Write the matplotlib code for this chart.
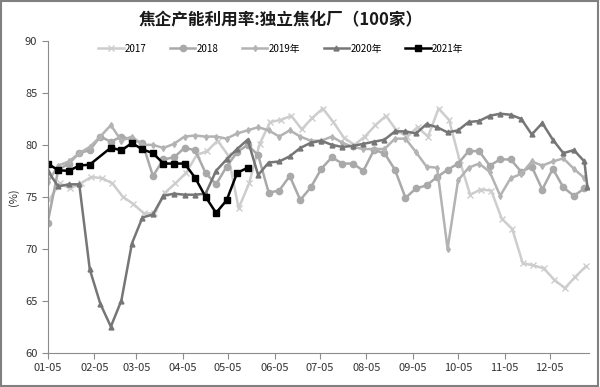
import pandas as pd
import numpy as np
import matplotlib
matplotlib.use("Agg")
import matplotlib.pyplot as plt
import matplotlib.dates as mdates
from matplotlib.patches import Rectangle

plt.rcParams['font.family'] = ['Noto Sans CJK SC', 'DejaVu Sans']

# ==========================
# DATA (weekly, %)
# ==========================
BASE_YEAR = "2021"

start_2017 = "01-06"
vals_2017 = [74.7, 76.3, 75.8, 76.3, 76.9, 76.8, 76.3, 75.0, 74.3, 73.4,
             73.4, 75.4, 76.3, 77.3, 79.0, 79.4, 80.4, 79.0, 73.9, 76.3,
             80.1, 82.2, 82.4, 82.8, 81.5, 82.6, 83.5, 82.2, 80.7, 80.0,
             80.8, 81.9, 82.8, 81.4, 80.8, 81.7, 80.8, 83.5, 82.4, 78.5,
             75.2, 75.7, 75.6, 72.9, 71.9, 68.6, 68.4, 68.1, 67.0, 66.2,
             67.3, 68.3]

start_2018 = "01-05"
vals_2018 = [72.5, 77.6, 78.2, 79.2, 79.5, 80.8, 80.3, 80.8, 80.5, 80.2,
             77.0, 78.6, 78.8, 79.7, 79.5, 77.3, 76.2, 77.9, 79.3, 80.0,
             79.0, 75.4, 75.6, 77.0, 74.7, 75.9, 77.7, 78.8, 78.2, 78.2,
             77.5, 79.5, 79.2, 77.6, 74.9, 75.8, 76.1, 76.9, 77.6, 78.2,
             79.4, 79.4, 78.0, 78.6, 78.6, 77.4, 77.9, 75.7, 77.7, 75.9,
             75.1, 75.8]

start_2019 = "01-05"
vals_2019 = [76.4, 78.0, 78.4, 79.2, 79.8, 80.8, 81.9, 80.4, 80.8, 80.0,
             80.0, 79.7, 80.1, 80.8, 80.9, 80.8, 80.8, 80.6, 81.1, 81.4,
             81.7, 81.4, 80.8, 81.4, 80.8, 80.4, 80.4, 80.8, 80.2, 79.8,
             79.6, 79.6, 79.6, 80.6, 80.6, 79.3, 77.9, 77.8, 70.0, 76.6,
             77.8, 78.2, 77.4, 75.1, 76.8, 77.2, 78.4, 78.0, 78.4, 78.7,
             77.7, 76.8]

start_2020 = "01-05"
vals_2020 = [77.5, 76.0, 76.2, 76.2, 68.0, 64.7, 62.5, 65.0, 70.5, 73.0,
             73.3, 75.1, 75.3, 75.2, 75.2, 75.3, 77.5, 78.6, 79.6, 80.5,
             77.1, 78.3, 78.4, 78.9, 79.7, 80.2, 80.4, 80.0, 79.8, 79.9,
             80.1, 80.3, 80.5, 81.3, 81.3, 81.1, 82.0, 81.7, 81.2, 81.4,
             82.2, 82.3, 82.8, 83.0, 82.9, 82.5, 81.0, 82.1, 80.5, 79.2,
             79.5, 78.4]
last_2020 = ("12-30", 75.9)

start_2021 = "01-05"
vals_2021 = [78.2, 77.55, 77.5, 78.0, 78.1, None, 79.73, 79.47, 80.17, 79.57,
             79.2, 78.2, 78.2, 78.2, 76.85, 75.0, 73.45, 74.66, 77.3, 77.8]

labels = ["2017", "2018", "2019年", "2020年", "2021年"]


def weekly(start, vals):
    idx = pd.date_range(f"{BASE_YEAR}-{start}", periods=len(vals), freq="7D")
    return pd.Series(vals, index=idx, dtype=float).dropna()


s2017 = weekly(start_2017, vals_2017)
s2018 = weekly(start_2018, vals_2018)
s2019 = weekly(start_2019, vals_2019)
s2020 = weekly(start_2020, vals_2020)
s2020.loc[pd.Timestamp(f"{BASE_YEAR}-{last_2020[0]}")] = last_2020[1]
s2021 = weekly(start_2021, vals_2021)

# ==========================
# PLOT
# ==========================
fig = plt.figure(figsize=(6.0, 3.87), dpi=100)
ax = fig.add_axes([0.0795, 0.089, 0.902, 0.805])

styles = [
    (s2017, dict(color="#cdcdcd", marker="x", ms=4, mew=1.0, lw=1.8)),
    (s2018, dict(color="#a9a9a9", marker="o", ms=4.5, lw=1.8)),
    (s2019, dict(color="#b3b3b3", marker="d", ms=3, lw=1.8)),
    (s2020, dict(color="#767676", marker="^", ms=3.5, lw=1.8)),
    (s2021, dict(color="#000000", marker="s", ms=4.5, lw=1.8)),
]
for (s, kw), lab in zip(styles, labels):
    ax.plot(s.index, s.values, label=lab, **kw)

ax.set_ylim(60, 90)
ax.set_yticks(np.arange(60, 91, 5))
ax.set_xlim(pd.Timestamp(f"{BASE_YEAR}-01-05"), pd.Timestamp(f"{BASE_YEAR}-12-31"))
ax.xaxis.set_major_locator(mdates.MonthLocator(bymonthday=5))
ax.xaxis.set_major_formatter(mdates.DateFormatter("%m-%d"))

for side in ["top", "right"]:
    ax.spines[side].set_visible(False)
for side in ["left", "bottom"]:
    ax.spines[side].set_color("#8c8c8c")
ax.tick_params(axis="both", colors="#8c8c8c", labelcolor="#333333",
               labelsize=8, length=4, direction="out")

ax.set_ylabel("(%)", fontsize=8, color="#333333", labelpad=4)

ax.legend(loc="center", bbox_to_anchor=(0.431, 0.975), ncol=5, frameon=False,
          fontsize=7, handlelength=2.6, columnspacing=2.4, handletextpad=0.15)

fig.suptitle("焦企产能利用率:独立焦化厂（100家）", x=0.468, y=0.972,
             fontsize=12, fontweight="bold", color="#1a1a1a")

fig.patches.append(Rectangle((0.002, 0.003), 0.995, 0.994, transform=fig.transFigure,
                             fill=False, edgecolor="#808080", lw=1.5))

fig.savefig("out.png", dpi=100)
